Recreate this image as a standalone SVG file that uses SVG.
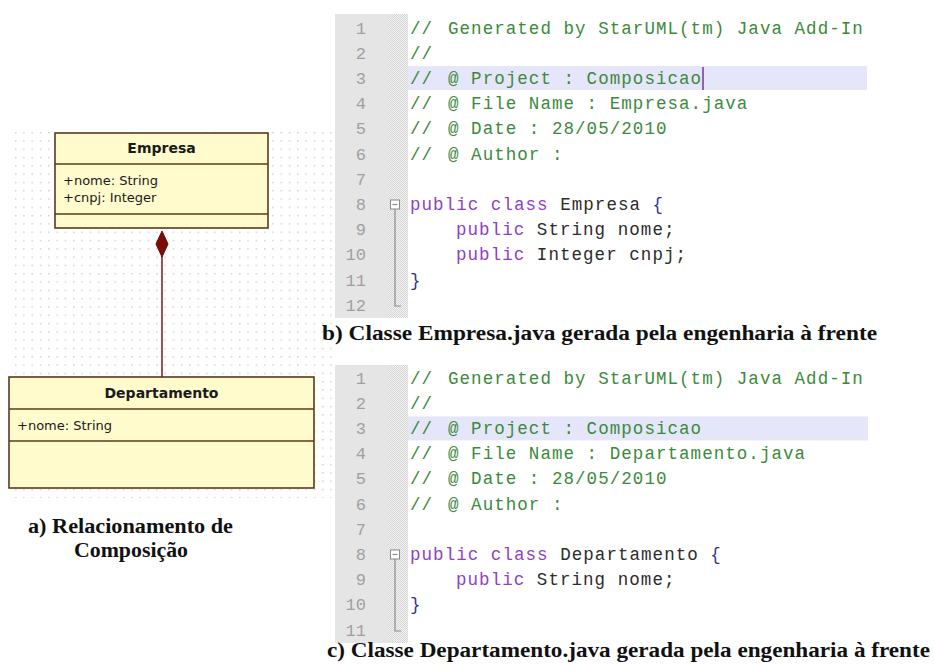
<svg xmlns="http://www.w3.org/2000/svg" width="934" height="672" viewBox="0 0 934 672">
  <defs>
    <pattern id="grid" x="14" y="131" width="8.3" height="8.3" patternUnits="userSpaceOnUse">
      <rect x="1" y="1" width="1.3" height="1.3" fill="#c4c4c4"/>
    </pattern>
    <pattern id="hatch" width="2" height="2" patternUnits="userSpaceOnUse">
      <rect width="2" height="2" fill="#f2f2f2"/>
      <rect width="1" height="1" fill="#d6d6d6"/>
      <rect x="1" y="1" width="1" height="1" fill="#d6d6d6"/>
    </pattern>
  </defs>
  <style>
    .cls { fill: #fffbcc; stroke: #5a3a1c; stroke-width: 1.6; }
    .sep { stroke: #5a3a1c; stroke-width: 1.4; }
    .title { font-family: "DejaVu Sans", Verdana, sans-serif; font-size: 14px; font-weight: bold; fill: #1a1a1a; text-anchor: middle; }
    .attr { font-family: "DejaVu Sans", Verdana, sans-serif; font-size: 13px; fill: #1a1a1a; }
    .cap { font-family: "Liberation Serif", "Times New Roman", serif; font-size: 20px; font-weight: bold; fill: #111; }
    .code { font-family: "Liberation Mono", "Courier New", monospace; font-size: 17.5px; letter-spacing: 1.05px; }
    .ln { font-family: "Liberation Mono", "Courier New", monospace; font-size: 17px; fill: #a0a0a0; text-anchor: end; }
    .cm { fill: #3b8a3b; }
    .kw { fill: #8e3fc6; }
    .id { fill: #2c2c2c; }
    .br { fill: #333388; }
    .gut { fill: #e5e5e5; }
    .hl { fill: #e6e6fa; }
    .fold { fill: #ffffff; stroke: #8a8a8a; stroke-width: 1; }
    .foldline { stroke: #8a8a8a; stroke-width: 1.2; fill: none; }
  </style>

  <!-- canvas background -->
  <rect width="934" height="672" fill="#ffffff"/>

  <!-- class diagram drawing area with dotted grid -->
  <rect x="14" y="131" width="318" height="367" fill="url(#grid)"/>

  <!-- composition connector -->
  <g id="connectors">
    <line x1="162" y1="256" x2="162" y2="377" stroke="#8b2323" stroke-width="1.6"/>
    <polygon points="162,231 168,244 162,257 156,244" fill="#7a0c0c" stroke="#6a0a0a" stroke-width="1"/>
  </g>

  <!-- class Empresa -->
  <g id="empresa">
    <rect class="cls" x="55" y="133" width="213" height="95"/>
    <line class="sep" x1="55" y1="164" x2="268" y2="164"/>
    <line class="sep" x1="55" y1="214" x2="268" y2="214"/>
    <text class="title" x="161.5" y="153">Empresa</text>
    <text class="attr" x="63" y="185">+nome: String</text>
    <text class="attr" x="63" y="202">+cnpj: Integer</text>
  </g>

  <!-- class Departamento -->
  <g id="departamento">
    <rect class="cls" x="9" y="377" width="305" height="111"/>
    <line class="sep" x1="9" y1="409" x2="314" y2="409"/>
    <line class="sep" x1="9" y1="441" x2="314" y2="441"/>
    <text class="title" x="161.5" y="398">Departamento</text>
    <text class="attr" x="17" y="430">+nome: String</text>
  </g>

  <!-- caption a -->
  <g id="caption-a">
    <text class="cap" x="28" y="533" textLength="205" lengthAdjust="spacingAndGlyphs">a) Relacionamento de</text>
    <text class="cap" x="74" y="557" textLength="114" lengthAdjust="spacingAndGlyphs">Composição</text>
  </g>

  <!-- editor listing: Empresa.java -->
  <g id="code-empresa">
    <rect class="gut" x="335" y="14" width="53" height="304"/>
    <rect x="388" y="14" width="20" height="304" fill="url(#hatch)"/>
    <rect class="hl" x="408" y="66" width="459" height="24"/>
    <line x1="703" y1="67" x2="703" y2="90" stroke="#8040a0" stroke-width="1.6"/>

    <text class="ln" x="366" y="33.5">1</text>
    <text class="ln" x="366" y="58.7">2</text>
    <text class="ln" x="366" y="83.9">3</text>
    <text class="ln" x="366" y="109.1">4</text>
    <text class="ln" x="366" y="134.3">5</text>
    <text class="ln" x="366" y="159.5">6</text>
    <text class="ln" x="366" y="184.7">7</text>
    <text class="ln" x="366" y="209.9">8</text>
    <text class="ln" x="366" y="235.1">9</text>
    <text class="ln" x="366" y="260.3">10</text>
    <text class="ln" x="366" y="285.5">11</text>
    <text class="ln" x="366" y="310.7">12</text>

    <text class="code cm" y="33.5"><tspan x="410">//</tspan><tspan x="448">Generated by StarUML(tm) Java Add-In</tspan></text>
    <text class="code cm" x="410" y="58.7">//</text>
    <text class="code cm" y="83.9"><tspan x="410">//</tspan><tspan x="448">@ Project : Composicao</tspan></text>
    <text class="code cm" y="109.1"><tspan x="410">//</tspan><tspan x="448">@ File Name : Empresa.java</tspan></text>
    <text class="code cm" y="134.3"><tspan x="410">//</tspan><tspan x="448">@ Date : 28/05/2010</tspan></text>
    <text class="code cm" y="159.5"><tspan x="410">//</tspan><tspan x="448">@ Author :</tspan></text>
    <text class="code" x="410" y="209.9"><tspan class="kw">public class</tspan><tspan class="id"> Empresa </tspan><tspan class="br">{</tspan></text>
    <text class="code" x="456" y="235.1"><tspan class="kw">public</tspan><tspan class="id"> String nome;</tspan></text>
    <text class="code" x="456" y="260.3"><tspan class="kw">public</tspan><tspan class="id"> Integer cnpj;</tspan></text>
    <text class="code br" x="410" y="285.5">}</text>

    <rect class="fold" x="390.5" y="200" width="9" height="9"/>
    <line class="foldline" x1="392.5" y1="204.5" x2="397.5" y2="204.5"/>
    <polyline class="foldline" points="395,209 395,306 401,306"/>
  </g>

  <!-- caption b -->
  <text id="caption-b" class="cap" x="322" y="340" textLength="555" lengthAdjust="spacingAndGlyphs">b) Classe Empresa.java gerada pela engenharia à frente</text>

  <!-- editor listing: Departamento.java -->
  <g id="code-departamento">
    <rect class="gut" x="335" y="365" width="53" height="278"/>
    <rect x="388" y="365" width="20" height="278" fill="url(#hatch)"/>
    <rect class="hl" x="408" y="416.4" width="460" height="24"/>

    <text class="ln" x="366" y="383.5">1</text>
    <text class="ln" x="366" y="408.7">2</text>
    <text class="ln" x="366" y="433.9">3</text>
    <text class="ln" x="366" y="459.1">4</text>
    <text class="ln" x="366" y="484.3">5</text>
    <text class="ln" x="366" y="509.5">6</text>
    <text class="ln" x="366" y="534.7">7</text>
    <text class="ln" x="366" y="559.9">8</text>
    <text class="ln" x="366" y="585.1">9</text>
    <text class="ln" x="366" y="610.3">10</text>
    <text class="ln" x="366" y="635.5">11</text>

    <text class="code cm" y="383.5"><tspan x="410">//</tspan><tspan x="448">Generated by StarUML(tm) Java Add-In</tspan></text>
    <text class="code cm" x="410" y="408.7">//</text>
    <text class="code cm" y="433.9"><tspan x="410">//</tspan><tspan x="448">@ Project : Composicao</tspan></text>
    <text class="code cm" y="459.1"><tspan x="410">//</tspan><tspan x="448">@ File Name : Departamento.java</tspan></text>
    <text class="code cm" y="484.3"><tspan x="410">//</tspan><tspan x="448">@ Date : 28/05/2010</tspan></text>
    <text class="code cm" y="509.5"><tspan x="410">//</tspan><tspan x="448">@ Author :</tspan></text>
    <text class="code" x="410" y="559.9"><tspan class="kw">public class</tspan><tspan class="id"> Departamento </tspan><tspan class="br">{</tspan></text>
    <text class="code" x="456" y="585.1"><tspan class="kw">public</tspan><tspan class="id"> String nome;</tspan></text>
    <text class="code br" x="410" y="610.3">}</text>

    <rect class="fold" x="390.5" y="550" width="9" height="9"/>
    <line class="foldline" x1="392.5" y1="554.5" x2="397.5" y2="554.5"/>
    <polyline class="foldline" points="395,559 395,631 401,631"/>
  </g>

  <!-- caption c -->
  <text id="caption-c" class="cap" x="327" y="657" textLength="603" lengthAdjust="spacingAndGlyphs">c) Classe Departamento.java gerada pela engenharia à frente</text>
</svg>
